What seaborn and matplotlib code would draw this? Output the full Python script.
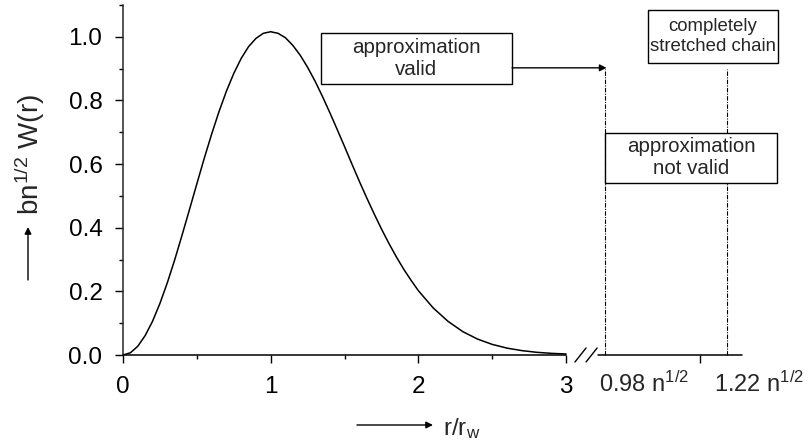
import numpy as np
import pandas as pd
import seaborn as sns
import matplotlib
matplotlib.use("Agg")
import matplotlib.pyplot as plt
from matplotlib.patches import Rectangle
from matplotlib.ticker import FixedLocator, NullFormatter
import matplotlib.transforms as mtransforms

# ---------------- data ----------------
r_over_rw = [0.0, 0.05, 0.1, 0.15, 0.2, 0.25, 0.3, 0.35, 0.4, 0.45, 0.5, 0.55, 0.6, 0.65,
             0.7, 0.75, 0.8, 0.85, 0.9, 0.95, 1.0, 1.05, 1.1, 1.15, 1.2, 1.25, 1.3, 1.35,
             1.4, 1.45, 1.5, 1.55, 1.6, 1.65, 1.7, 1.75, 1.8, 1.85, 1.9, 1.95, 2.0, 2.1,
             2.2, 2.3, 2.4, 2.5, 2.6, 2.7, 2.8, 2.9, 3.0]
W_scaled = [0.0, 0.0069, 0.0274, 0.061, 0.106, 0.162, 0.227, 0.299, 0.377, 0.457, 0.538,
            0.618, 0.694, 0.765, 0.829, 0.885, 0.932, 0.969, 0.995, 1.011, 1.016, 1.011,
            0.997, 0.973, 0.942, 0.904, 0.861, 0.813, 0.762, 0.709, 0.655, 0.600, 0.546,
            0.494, 0.444, 0.396, 0.351, 0.309, 0.270, 0.235, 0.202, 0.148, 0.106, 0.0736,
            0.0501, 0.0333, 0.0216, 0.0138, 0.0085, 0.0052, 0.0031]

x_major_ticks = [0, 1, 2, 3]
x_major_labels = ["0", "1", "2", "3"]
x_minor_ticks = [0.5, 1.5, 2.5]
y_major_ticks = [0.0, 0.2, 0.4, 0.6, 0.8, 1.0]
y_minor_ticks = [0.1, 0.3, 0.5, 0.7, 0.9, 1.1]

# region beyond the axis break (positions on the drawing scale)
limit_pos = [3.264, 4.088]
limit_labels = [r"0.98 n$^{1/2}$", r"1.22 n$^{1/2}$"]
limit_label_shift = [-0.04, -0.09]
limit_top = 0.90
extra_tick = [3.906]

box_texts = ["approximation\nvalid", "completely\nstretched chain", "approximation\nnot valid"]
box_fontsizes = [14.8, 13.4, 14.8]

# ---------------- style ----------------
sns.set_style("ticks")
plt.rcParams["font.family"] = ["Liberation Sans", "DejaVu Sans"]
plt.rcParams["mathtext.fontset"] = "custom"
plt.rcParams["mathtext.rm"] = "Liberation Sans"
plt.rcParams["mathtext.it"] = "Liberation Sans"
plt.rcParams["mathtext.bf"] = "Liberation Sans:bold"

fig = plt.figure(figsize=(8.11, 4.41), dpi=100)
ax = fig.add_axes([123 / 811, 86 / 441, 619 / 811, 350 / 441])

df = pd.DataFrame({"r": r_over_rw, "W": W_scaled})
sns.lineplot(data=df, x="r", y="W", color="black", lw=1.1, ax=ax, sort=False)

xmax = 619 / 147.7
ax.set_xlim(0, xmax)
ax.set_ylim(0, 1.1)

# spines
for s in ["top", "right", "bottom"]:
    ax.spines[s].set_visible(False)
ax.spines["left"].set_linewidth(1.1)

# broken bottom axis
ax.plot([0, 3], [0, 0], color="black", lw=1.1, clip_on=False, zorder=3)
ax.plot([3.216, xmax], [0, 0], color="black", lw=1.1, clip_on=False, zorder=3)
for x0 in [3.06, 3.135]:
    ax.plot([x0, x0 + 0.075], [-0.022, 0.022], color="black", lw=1.0, clip_on=False)

# ticks
ax.xaxis.set_major_locator(FixedLocator(x_major_ticks + extra_tick))
ax.set_xticklabels(x_major_labels + [""])
ax.xaxis.set_minor_locator(FixedLocator(x_minor_ticks))
ax.yaxis.set_major_locator(FixedLocator(y_major_ticks))
ax.set_yticklabels([f"{v:.1f}" for v in y_major_ticks])
ax.yaxis.set_minor_locator(FixedLocator(y_minor_ticks))
ax.yaxis.set_minor_formatter(NullFormatter())
ax.tick_params(which="major", direction="out", length=5.5, width=1.0, labelsize=17.5, pad=9.3,
               color="black", labelcolor="black")
ax.tick_params(which="minor", direction="out", length=3.2, width=1.0, color="black")
ax.set_xlabel("")
ax.set_ylabel("")

# labels of the region after the break
trans = mtransforms.blended_transform_factory(ax.transData, ax.transAxes)
for xp, sh, lab in zip(limit_pos, limit_label_shift, limit_labels):
    ax.annotate(lab, xy=(xp + sh, 0), xycoords=trans, xytext=(0, -26.6),
                textcoords="offset points", ha="left", va="baseline", fontsize=17)

# dashed limit lines
for xp in limit_pos:
    ax.plot([xp, xp], [0, limit_top], color="black", lw=0.8,
            linestyle=(0, (4, 1.2, 1, 1.2)), clip_on=False, zorder=2)

# boxes
boxes = [(1.3405, 0.8522, 2.6337 - 1.3405, 1.0126 - 0.8522),
         (3.5545, 0.9182, 4.4347 - 3.5545, 1.0849 - 0.9182),
         (3.2634, 0.5409, 4.4279 - 3.2634, 0.6981 - 0.5409)]
centers = [(1.987, 0.932), (3.995, 1.0016), (3.846, 0.6195)]
for (bx, by, bw, bh), (cx, cy), txt, fs in zip(boxes, centers, box_texts, box_fontsizes):
    ax.add_patch(Rectangle((bx, by), bw, bh, facecolor="white", edgecolor="black",
                           lw=1.0, clip_on=False, zorder=4))
    ax.text(cx, cy, txt, ha="center", va="center", fontsize=fs, linespacing=1.2,
            zorder=5, clip_on=False)

# arrow from first box to limit line
ax.annotate("", xy=(limit_pos[0] + 0.01, 0.9025), xytext=(2.634, 0.9025),
            arrowprops=dict(arrowstyle="-|>", color="black", lw=1.0, mutation_scale=10,
                            shrinkA=0, shrinkB=0), zorder=5)

# axis titles with arrows
fig.text(30 / 811, 1 - 155 / 441, r"bn$^{1/2}$ W(r)", rotation=90, ha="center",
         va="center", fontsize=20)
ax.annotate("", xy=(28 / 811, 1 - 227 / 441), xycoords="figure fraction",
            xytext=(28 / 811, 1 - 280 / 441), textcoords="figure fraction",
            arrowprops=dict(arrowstyle="-|>", color="black", lw=1.0, mutation_scale=10,
                            shrinkA=0, shrinkB=0))
ax.annotate("", xy=(433 / 811, 1 - 425 / 441), xycoords="figure fraction",
            xytext=(357 / 811, 1 - 425 / 441), textcoords="figure fraction",
            arrowprops=dict(arrowstyle="-|>", color="black", lw=1.0, mutation_scale=10,
                            shrinkA=0, shrinkB=0))
fig.text(443 / 811, 1 - 435 / 441, r"r/r$_\mathrm{w}$", ha="left", va="baseline", fontsize=17.5)

fig.savefig("out.png", dpi=100)
